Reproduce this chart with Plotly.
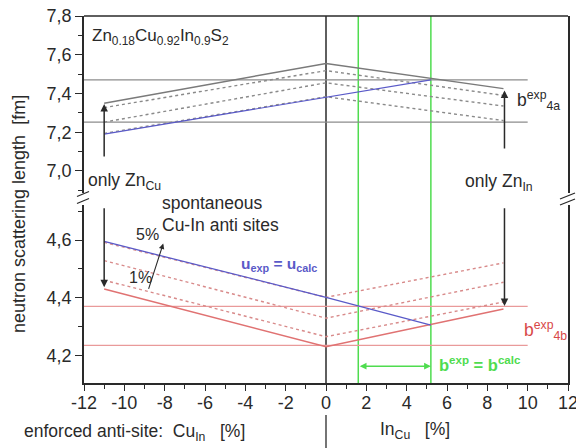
import plotly.graph_objects as go

# ---------------- data ----------------
x_pts = [-11, 0, 8.8]

top_solid = [7.350, 7.555, 7.425]
top_dot1 = [7.327, 7.518, 7.390]
top_dot2 = [7.252, 7.455, 7.335]
top_dot3 = [7.194, 7.383, 7.260]
top_hline_vals = [7.470, 7.252]
blue_top_x = [-11, 5.2]
blue_top_y = [7.190, 7.470]

bot_solid = [4.431, 4.231, 4.362]
bot_dot1 = [4.461, 4.266, 4.386]
bot_dot2 = [4.529, 4.330, 4.454]
bot_dot3 = [4.592, 4.402, 4.521]
bot_hline_vals = [4.371, 4.236]
blue_bot_x = [-11, 0, 5.2]
blue_bot_y = [4.595, 4.402, 4.306]

hline_x = [-12, 10]
green_x = [1.6, 5.2]

x_ticks = [-12, -10, -8, -6, -4, -2, 0, 2, 4, 6, 8, 10, 12]
x_ticklabels = ["-12", "-10", "-8", "-6", "-4", "-2", "0", "2", "4", "6", "8", "10", "12"]
top_ticks = [7.0, 7.2, 7.4, 7.6, 7.8]
top_ticklabels = ["7,0", "7,2", "7,4", "7,6", "7,8"]
bot_ticks = [4.2, 4.4, 4.6]
bot_ticklabels = ["4,2", "4,4", "4,6"]

# ---------------- layout helpers ----------------
W, H = 576, 448
ML, MR, MT, MB = 84, 8, 16, 65
PW, PH = W - ML - MR, H - MT - MB


def px(xp):
    return (xp - ML) / PW


def py(yp):
    return (H - MB - yp) / PH


FONT = "Liberation Sans, Arial, sans-serif"
GRAY = "#7a7a7a"
GRAY_H = "#8c8c8c"
RED = "#e07272"
RED_H = "#e99a9a"
BLUE = "#5a5ac8"
GREEN = "#4fdc4f"
BLACK = "#2a2a2a"

fig = go.Figure()

# top panel (y2)
for yv in top_hline_vals:
    fig.add_trace(go.Scatter(x=hline_x, y=[yv, yv], mode="lines", yaxis="y2",
                             line=dict(color=GRAY_H, width=1.3), showlegend=False))
for ys in (top_dot1, top_dot2, top_dot3):
    fig.add_trace(go.Scatter(x=x_pts, y=ys, mode="lines", yaxis="y2",
                             line=dict(color="#8a8a8a", width=1.4, dash="dot"), showlegend=False))
fig.add_trace(go.Scatter(x=x_pts, y=top_solid, mode="lines", yaxis="y2",
                         line=dict(color=GRAY, width=1.5), showlegend=False))
fig.add_trace(go.Scatter(x=blue_top_x, y=blue_top_y, mode="lines", yaxis="y2",
                         line=dict(color=BLUE, width=1.2), showlegend=False))

# bottom panel (y)
for yv in bot_hline_vals:
    fig.add_trace(go.Scatter(x=hline_x, y=[yv, yv], mode="lines", yaxis="y",
                             line=dict(color=RED_H, width=1.3), showlegend=False))
for ys in (bot_dot1, bot_dot2, bot_dot3):
    fig.add_trace(go.Scatter(x=x_pts, y=ys, mode="lines", yaxis="y",
                             line=dict(color="#d88a8a", width=1.4, dash="dot"), showlegend=False))
fig.add_trace(go.Scatter(x=x_pts, y=bot_solid, mode="lines", yaxis="y",
                         line=dict(color=RED, width=1.5), showlegend=False))
fig.add_trace(go.Scatter(x=blue_bot_x, y=blue_bot_y, mode="lines", yaxis="y",
                         line=dict(color=BLUE, width=1.3), showlegend=False))

shapes = []
# x = 0 separator line
shapes.append(dict(type="line", xref="x", yref="paper", x0=0, x1=0, y0=0, y1=1,
                   line=dict(color=BLACK, width=1.5), layer="below"))
shapes.append(dict(type="line", xref="x", yref="paper", x0=0, x1=0, y0=py(415), y1=py(448),
                   line=dict(color=BLACK, width=1.3)))
for gx in green_x:
    shapes.append(dict(type="line", xref="x", yref="paper", x0=gx, x1=gx, y0=0, y1=1,
                       line=dict(color=GREEN, width=1.5), layer="below"))
# top frame line
shapes.append(dict(type="line", xref="paper", yref="paper", x0=0, x1=1, y0=1, y1=1,
                   line=dict(color=BLACK, width=1.5)))
# axis break marks
for (x0, y0, x1, y1) in [(77, 196.5, 89, 191.5), (77, 203.5, 89, 198.5),
                         (560, 199, 575, 193), (560, 205, 575, 199)]:
    shapes.append(dict(type="line", xref="paper", yref="paper", x0=px(x0), x1=px(x1),
                       y0=py(y0), y1=py(y1), line=dict(color=BLACK, width=1.3)))

ann = []


def text(t, xp, yp, size=17.5, color=BLACK, anchor="left", bold=False):
    if bold:
        t = "<b>" + t + "</b>"
    ann.append(dict(text=t, xref="paper", yref="paper", x=px(xp), y=py(yp),
                    xanchor=anchor, yanchor="middle", showarrow=False,
                    font=dict(family=FONT, size=size, color=color)))


text("Zn<sub>0.18</sub>Cu<sub>0.92</sub>In<sub>0.9</sub>S<sub>2</sub>", 90, 37, size=17)
text("only Zn<sub>Cu</sub>", 86, 181)
text("spontaneous", 160, 203)
text("Cu-In anti sites", 160, 225)
text("5%", 134, 234, size=16)
text("1%", 127, 277, size=16)
text("u<sub>exp</sub> = u<sub>calc</sub>", 239, 264, size=15.5, color=BLUE, bold=True)
text("b<sup>exp</sup><sub>4a</sub>", 515, 100, size=17.5)
text("only Zn<sub>In</sub>", 463, 183)
text("b<sup>exp</sup><sub>4b</sub>", 522, 330, size=17.5, color="#d84848")
text("b<sup>exp</sup> = b<sup>calc</sup>", 437, 364, size=16.5, color=GREEN, bold=True)
text("enforced anti-site:  Cu<sub>In</sub>   [%]", 22, 432)
text("In<sub>Cu</sub>   [%]", 378, 430)
ann.append(dict(text="neutron scattering length  [fm]", xref="paper", yref="paper",
                x=px(19), y=py(214), xanchor="center", yanchor="middle", textangle=-90,
                showarrow=False, font=dict(family=FONT, size=18, color=BLACK)))


def arrow(x_tail, y_tail, x_head, y_head, yref, color=BLACK, width=1.5, size=1.0, both=False):
    ann.append(dict(text="", xref="x", yref=yref, axref="x", ayref=yref,
                    x=x_head, y=y_head, ax=x_tail, ay=y_tail, showarrow=True,
                    arrowhead=2, arrowsize=size, arrowwidth=width, arrowcolor=color,
                    startarrowhead=2, startarrowsize=size,
                    arrowside="end+start" if both else "end"))


arrow(-11, 7.067, -11, 7.345, "y2")
arrow(-11, 4.715, -11, 4.437, "y")
arrow(8.85, 7.108, 8.85, 7.415, "y2")
arrow(8.85, 4.715, 8.85, 4.372, "y")
arrow(-8.82, 4.426, -8.07, 4.588, "y", width=1.1, size=1.0)
arrow(1.6, 4.164, 5.2, 4.164, "y", color=GREEN, width=1.5, size=0.9, both=True)

axis_font = dict(family=FONT, size=18, color=BLACK)
fig.update_layout(
    width=W, height=H, autosize=False,
    margin=dict(l=ML, r=MR, t=MT, b=MB, pad=0, autoexpand=False),
    paper_bgcolor="white", plot_bgcolor="white",
    font=dict(family=FONT, color=BLACK),
    showlegend=False,
    xaxis=dict(range=[-12, 12], tickvals=x_ticks, ticktext=x_ticklabels,
               ticks="outside", ticklen=6, tickwidth=1.3, tickcolor=BLACK,
               minor=dict(dtick=1, tick0=-12, ticks="outside", ticklen=4, tickcolor=BLACK),
               showline=True, linecolor=BLACK, linewidth=1.5, showgrid=False, zeroline=False,
               tickfont=axis_font, anchor="y", automargin=False,
               ticklabeloverflow="allow", ticklabelstandoff=-3),
    yaxis=dict(domain=[0, py(205)], range=[4.106, 4.721], tickvals=bot_ticks,
               ticktext=bot_ticklabels, ticks="outside", ticklen=7, tickwidth=1.3,
               tickcolor=BLACK, minor=dict(dtick=0.1, tick0=4.0, ticks="outside", ticklen=4,
                                           tickcolor=BLACK),
               showline=True, linecolor=BLACK, linewidth=1.5, mirror=True,
               showgrid=False, zeroline=False, tickfont=axis_font, automargin=False),
    yaxis2=dict(domain=[py(193), 1], range=[6.886, 7.8], tickvals=top_ticks,
                ticktext=top_ticklabels, ticks="outside", ticklen=7, tickwidth=1.3,
                tickcolor=BLACK, minor=dict(dtick=0.1, tick0=6.9, ticks="outside", ticklen=4,
                                            tickcolor=BLACK),
                showline=True, linecolor=BLACK, linewidth=1.5, mirror=True,
                showgrid=False, zeroline=False, tickfont=axis_font, anchor="x",
                automargin=False),
    shapes=shapes,
    annotations=ann,
)

fig.write_html("out.html")
